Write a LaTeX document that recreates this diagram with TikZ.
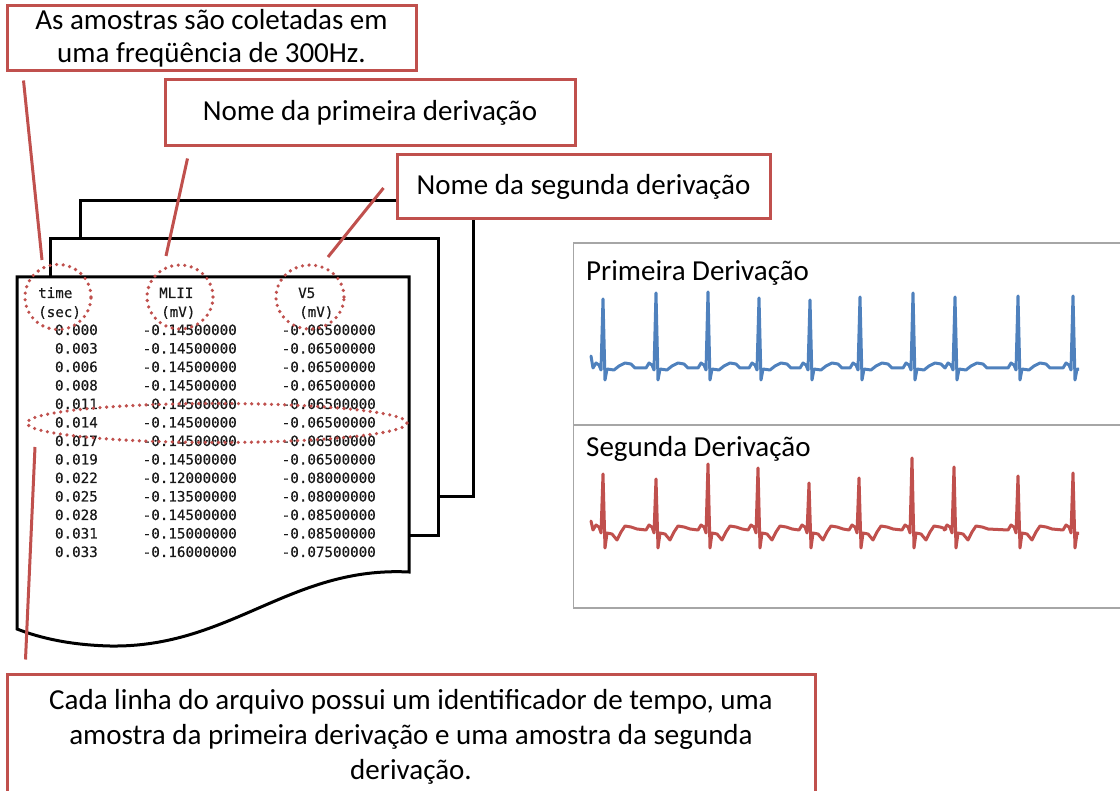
\documentclass[tikz,border=0pt]{standalone}
\usepackage{fontspec}
\setmainfont{Carlito}
\newfontfamily\monofont[FakeBold=0.4]{DejaVu Sans Mono}
\usetikzlibrary{shapes.geometric}
\definecolor{boxred}{HTML}{C0504D}
\definecolor{ecgblue}{HTML}{4F81BD}
\definecolor{framegray}{HTML}{A6A6A6}
\begin{document}
\begin{tikzpicture}[x=1pt, y=-1pt,
    callout/.style={draw=boxred, line width=3pt, fill=white, align=center, inner sep=0pt,
        font=\fontsize{29}{33}\selectfont},
    marker/.style={ellipse, draw=boxred, line width=3.6pt, dash pattern=on 0pt off 6.6pt,
        line cap=round, inner sep=0pt},
    page/.style={draw=black, line width=3pt, fill=white},
    leader/.style={boxred, line width=3pt},
    datum/.style={font=\monofont\fontsize{14.2}{16}\selectfont, text=black!90, inner sep=0pt},
    ecg/.style={line width=3pt, line join=round, line cap=round},
    label/.style={font=\fontsize{29}{33}\selectfont, inner sep=0pt, anchor=base west}]
    \useasboundingbox (0,0) rectangle (1120,791);

    % pilha de arquivos
    \draw[page] (80,201) rectangle (473,497);
    \draw[page] (50,239) rectangle (438,536);
    \draw[page] (17,277) -- (409,277) -- (409,572)
        .. controls (290,566) and (230,648) .. (110,646)
        .. controls (70,645) and (40,638) .. (17,629) -- cycle;

    % cabecalho e amostras
    \node[datum, anchor=base west] (htime) at (38,298) {time};
    \node[datum, anchor=base west] (hsec) at (38,317) {(sec)};
    \node[datum, anchor=base west] (hmlii) at (159,298) {MLII};
    \node[datum, anchor=base west] (hmva) at (161,317) {(mV)};
    \node[datum, anchor=base west] (hvcinco) at (298,298) {V5};
    \node[datum, anchor=base west] (hmvb) at (299,317) {(mV)};
    \foreach \t/\a/\b [count=\i from 0] in {
            0.000/-0.14500000/-0.06500000, 0.003/-0.14500000/-0.06500000,
            0.006/-0.14500000/-0.06500000, 0.008/-0.14500000/-0.06500000,
            0.011/-0.14500000/-0.06500000, 0.014/-0.14500000/-0.06500000,
            0.017/-0.14500000/-0.06500000, 0.019/-0.14500000/-0.06500000,
            0.022/-0.12000000/-0.08000000, 0.025/-0.13500000/-0.08000000,
            0.028/-0.14500000/-0.08500000, 0.031/-0.15000000/-0.08500000,
            0.033/-0.16000000/-0.07500000} {
        \node[datum, anchor=base east] (t\i) at (98, 335+18.5*\i) {\t};
        \node[datum, anchor=base east] (a\i) at (237, 335+18.5*\i) {\a};
        \node[datum, anchor=base east] (b\i) at (376, 335+18.5*\i) {\b};
    }

    % marcacoes pontilhadas
    \node[marker, minimum width=66, minimum height=65] (tempo) at (58,297) {};
    \node[marker, minimum width=66, minimum height=64] (mlii) at (180,297) {};
    \node[marker, minimum width=68, minimum height=64] (vcinco) at (310,297) {};
    \node[marker, minimum width=380, minimum height=39] (linha) at (217,423) {};

    % caixas de texto
    \node[callout, minimum width=409, minimum height=65] (amostras) at (211.5,38.5)
        {As amostras são coletadas em\\uma freqüência de 300Hz.};
    \node[callout, minimum width=410, minimum height=66] (primeira) at (370,113)
        {Nome da primeira derivação};
    \node[callout, minimum width=373, minimum height=64] (segunda) at (583.5,187)
        {Nome da segunda derivação};
    \node[callout, minimum width=808, minimum height=126, font=\fontsize{29}{35}\selectfont]
        (cadalinha) at (411,737)
        {Cada linha do arquivo possui um identificador de tempo, uma\\
         amostra da primeira derivação e uma amostra da segunda\\
         derivação.};

    % ligacoes
    \draw[leader] (amostras.south west) ++(18,8) -- ([shift={(-16,-37)}]tempo.center);
    \draw[leader] (primeira.south west) ++(24,11) -- ([shift={(-14,-41)}]mlii.center);
    \draw[leader] (segunda.west) ++(-12,1) -- ([shift={(18,-40)}]vcinco.center);
    \draw[leader] (linha.center) ++(-182,24) -- ([shift={(20,-13)}]cadalinha.north west);

    % sinais
    \draw[framegray, line width=1.5pt] (573.5,243) rectangle (1125,608);
    \draw[framegray, line width=1.5pt] (573.5,425) -- (1125,425);
    \node[label] (rotuloA) at (586,281) {Primeira Derivação};
    \node[label] (rotuloB) at (586,457) {Segunda Derivação};
    \begin{scope}
        \clip (585,250) rectangle (1079,600);
        \draw[ecg, ecgblue] (591,356)
            \foreach \X/\P in {604/299, 657/293, 709/292, 760/298, 811/300,
                    861/297, 914/293, 956/297, 1019/296, 1074/296} {
                -- (\X-11,368) -- (\X-8,363) -- (\X-5,365) -- (\X-3,370) -- (\X-1,\P)
                -- (\X+1,380) -- (\X+3,369) -- (\X+10,370) -- (\X+15,366)
                -- (\X+21,363) -- (\X+27,364) -- (\X+31,368)
            };
        \draw[ecg, boxred] (591,521)
            \foreach \X/\P in {604/474, 657/479, 709/464, 759/468, 810/483,
                    860/478, 913/458, 955/467, 1019/476, 1074/473} {
                -- (\X-11,530) -- (\X-8,525) -- (\X-5,527) -- (\X-3,533) -- (\X-1,\P)
                -- (\X+1,548) -- (\X+3,533) -- (\X+8,534) -- (\X+13,540)
                -- (\X+17,532) -- (\X+21,526) -- (\X+27,527) -- (\X+33,529)
            };
    \end{scope}
\end{tikzpicture}
\end{document}
